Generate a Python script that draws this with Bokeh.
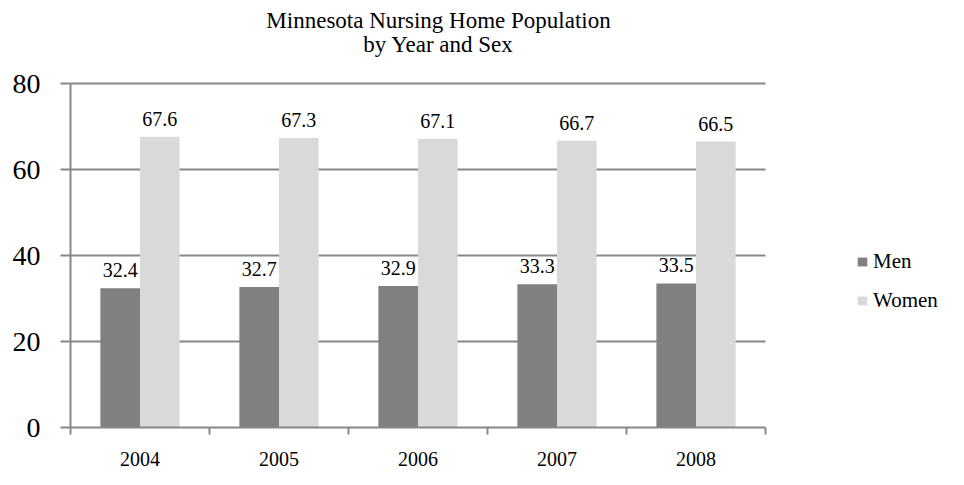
from bokeh.plotting import figure
from bokeh.models import Range1d, FixedTicker, Label, Legend, LegendItem, ColumnDataSource
from bokeh.embed import file_html
from bokeh.resources import INLINE
from bokeh.core.properties import value

years = ["2004", "2005", "2006", "2007", "2008"]
men = [32.4, 32.7, 32.9, 33.3, 33.5]
women = [67.6, 67.3, 67.1, 66.7, 66.5]
y_ticks = [0, 20, 40, 60, 80]
title_lines = ["Minnesota Nursing Home Population", "by Year and Sex"]

FONT = "Liberation Serif"
GRID = "#878787"
BW = 0.285

W, H = 948, 469
LEFT, BOTTOM = 70, 42
PLOT_TOP = 83          # pixel row of the value 80
CAT_PX = 139           # pixels per category
frame_w = W - LEFT
frame_h = H - BOTTOM
x_end = frame_w / CAT_PX
y_max = y_ticks[-1]
px_per_unit = (frame_h - PLOT_TOP) / y_max
y_end = frame_h / px_per_unit
n = len(years)

def px_to_data(px, py):
    return (px - LEFT) / CAT_PX, (frame_h - py) / px_per_unit

centers = [i + 0.5 for i in range(n)]
men_x = [c - BW / 2 for c in centers]
women_x = [c + BW / 2 for c in centers]

p = figure(width=W, height=H, output_backend="svg", toolbar_location=None,
           x_range=Range1d(0, x_end), y_range=Range1d(0, y_end),
           min_border_left=LEFT, min_border_right=0, min_border_top=0, min_border_bottom=BOTTOM)
p.outline_line_color = None
p.background_fill_color = "white"
p.border_fill_color = "white"

src_m = ColumnDataSource(dict(x=men_x, y=men, lab=[f"{v:.1f}" for v in men]))
src_w = ColumnDataSource(dict(x=women_x, y=women, lab=[f"{v:.1f}" for v in women]))

rm = p.vbar(x="x", top="y", width=BW, source=src_m, fill_color="#808080", line_color=None)
rw = p.vbar(x="x", top="y", width=BW, source=src_w, fill_color="#d9d9d9", line_color=None)

for s in (src_m, src_w):
    p.text(x="x", y="y", text="lab", source=s, text_align="center", text_baseline="bottom",
           y_offset=-11, text_font=value(FONT), text_font_size="20px", text_color="black")

# x axis
p.xaxis.bounds = (0, n)
p.xaxis.ticker = FixedTicker(ticks=centers, minor_ticks=list(range(n + 1)))
p.xaxis.major_label_overrides = {c: y for c, y in zip(centers, years)}
p.xaxis.major_tick_line_color = None
p.xaxis.major_tick_out = 0
p.xaxis.major_tick_in = 0
p.xaxis.minor_tick_line_color = GRID
p.xaxis.minor_tick_line_width = 2
p.xaxis.minor_tick_out = 7
p.xaxis.minor_tick_in = 0
p.xaxis.axis_line_color = GRID
p.xaxis.axis_line_width = 2
p.xaxis.major_label_standoff = 17
p.xaxis.major_label_text_font = FONT
p.xaxis.major_label_text_font_size = "20px"
p.xaxis.major_label_text_color = "black"
p.xgrid.grid_line_color = None

# y axis
p.yaxis.bounds = (0, y_max)
p.yaxis.ticker = FixedTicker(ticks=y_ticks, minor_ticks=[])
p.yaxis.axis_line_color = GRID
p.yaxis.axis_line_width = 2
p.yaxis.major_tick_line_color = GRID
p.yaxis.major_tick_line_width = 2
p.yaxis.major_tick_out = 10
p.yaxis.major_tick_in = 0
p.yaxis.major_label_standoff = 20
p.yaxis.major_label_text_font = FONT
p.yaxis.major_label_text_font_size = "28px"
p.yaxis.major_label_text_color = "black"
p.ygrid.grid_line_color = GRID
p.ygrid.grid_line_width = 2
p.ygrid.cross_bounds = (0, n)
p.ygrid.bounds = (0, y_max)

# title (two centred lines)
for line, py in zip(title_lines, (20, 44)):
    tx, ty = px_to_data(438, py)
    p.add_layout(Label(x=tx, y=ty, text=line, text_align="center", text_baseline="middle",
                       text_font=FONT, text_font_size="23px", text_color="black"))

legend = Legend(items=[LegendItem(label="Men", renderers=[rm]),
                       LegendItem(label="Women", renderers=[rw])],
                location=(786, 114), border_line_color=None, background_fill_alpha=0,
                glyph_width=12, glyph_height=11, label_text_font=FONT,
                label_text_font_size="21px", label_text_color="black",
                spacing=14, label_standoff=5, padding=0, margin=0)
p.add_layout(legend, "center")

open("out.html", "w").write(file_html(p, INLINE))
